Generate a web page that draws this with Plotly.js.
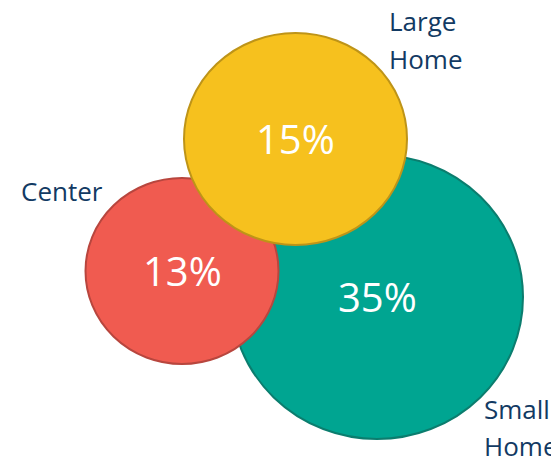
<!DOCTYPE html>
<html>
<head>
<meta charset="utf-8">
<script src="https://cdn.plot.ly/plotly-3.0.1.min.js"></script>
<style>
  html, body { margin: 0; padding: 0; background: #ffffff; }
  #chart { width: 551px; height: 462px; }
</style>
</head>
<body>
<div id="chart"></div>
<script>
// ---- data ----
const categories = ['Small Home', 'Center', 'Large Home'];
const shares = [35, 13, 15];           // percent
const fillColors = ['#00A591', '#F05B50', '#F6C11E'];
const lineColors = ['#0B7D6E', '#B8463E', '#BE9418'];

// ---- layout geometry (pixel-like axis units) ----
const geom = [
  {cx: 377,   cy: 297, rx: 146,   ry: 142},   // Small Home
  {cx: 182,   cy: 271, rx: 96.5,  ry: 93},    // Center
  {cx: 295.5, cy: 139, rx: 111.5, ry: 106}    // Large Home
];
// label line positions: left x, vertical centre of capitals
const labelPos = [
  [{x: 483, y: 409}, {x: 483, y: 446}],
  [{x: 20,  y: 191}],
  [{x: 388, y: 21},  {x: 388, y: 59}]
];

const labelFont = {family: 'Open Sans, sans-serif', size: 26, color: '#123A63'};
const valueFont = {family: 'Open Sans, sans-serif', size: 40, color: '#ffffff'};

const shapes = categories.map((c, i) => ({
  type: 'circle', xref: 'x', yref: 'y', layer: 'below',
  x0: geom[i].cx - geom[i].rx, x1: geom[i].cx + geom[i].rx,
  y0: geom[i].cy - geom[i].ry, y1: geom[i].cy + geom[i].ry,
  fillcolor: fillColors[i], line: {color: lineColors[i], width: 2}
}));

const annotations = [];
categories.forEach((c, i) => {
  const words = c.split(' ');
  words.forEach((w, j) => {
    const p = labelPos[i][j];
    annotations.push({
      x: p.x, y: p.y, xref: 'x', yref: 'y', text: w, showarrow: false,
      xanchor: 'left', yanchor: 'middle', borderpad: 0, font: labelFont
    });
  });
  annotations.push({
    x: geom[i].cx, y: geom[i].cy, xref: 'x', yref: 'y',
    text: shares[i] + '%', showarrow: false,
    xanchor: 'center', yanchor: 'middle', yshift: 1, borderpad: 0, font: valueFont
  });
});

const layout = {
  width: 551, height: 462,
  margin: {l: 0, r: 0, t: 0, b: 0},
  paper_bgcolor: '#ffffff', plot_bgcolor: '#ffffff',
  xaxis: {range: [0, 551], visible: false, fixedrange: true},
  yaxis: {range: [462, 0], visible: false, fixedrange: true},
  shapes: shapes,
  annotations: annotations,
  showlegend: false
};

Plotly.newPlot('chart', [], layout, {staticPlot: true, displayModeBar: false});
</script>
</body>
</html>
